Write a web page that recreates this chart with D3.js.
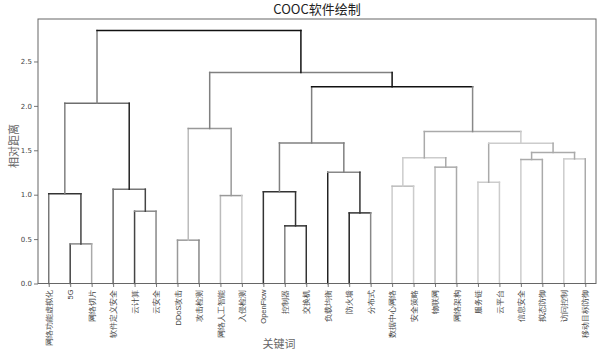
<!DOCTYPE html>
<html>
<head>
<meta charset="utf-8">
<script src="https://cdn.jsdelivr.net/npm/d3@7"></script>
<style>
  body { margin: 0; background: #fff; }
  svg { display: block; font-family: "Noto Sans CJK SC", "DejaVu Sans", sans-serif; }
  .axis path, .axis line { stroke: #777; }
  .axis text { fill: #444; }
</style>
</head>
<body>
<svg id="chart" width="602" height="354"></svg>
<script>
// leaves in dendrogram order
const leafLabels = [
  "网络功能虚拟化", "5G", "网络切片", "软件定义安全", "云计算", "云安全",
  "DDoS攻击", "攻击检测", "网络人工智能", "入侵检测", "OpenFlow", "控制器",
  "交换机", "负载均衡", "防火墙", "分布式", "数据中心网络", "安全策略",
  "物联网", "网络架构", "服务链", "云平台", "信息安全", "拟态防御",
  "访问控制", "移动目标防御"
];

// linkage: node ids 0..25 are leaves, merge i creates node 26 + i
const mergeLeft  = [1, 6, 11, 14, 4, 8, 0, 10, 3, 16, 20, 13, 18, 22, 24, 35, 39, 33, 36, 41, 27, 32, 43, 46, 47];
const mergeRight = [2, 7, 12, 15, 5, 9, 26, 28, 30, 17, 21, 29, 19, 23, 25, 38, 40, 37, 42, 44, 31, 34, 45, 48, 49];
const mergeHeight = [0.446, 0.488, 0.649, 0.795, 0.814, 0.99, 1.01, 1.032, 1.062, 1.096, 1.14, 1.253,
  1.31, 1.396, 1.403, 1.415, 1.475, 1.583, 1.578, 1.711, 1.745, 2.03, 2.214, 2.376, 2.85];

const yTicks = [0, 0.5, 1.0, 1.5, 2.0, 2.5];

// stroke shade of each link: [left leg, crossbar, right leg]
const linkShades = [
  ["#444", "#888", "#aaa"], ["#999", "#999", "#888"], ["#808080", "#333", "#333"],
  ["#222", "#333", "#888"], ["#444", "#888", "#888"], ["#bbb", "#999", "#ccc"],
  ["#777", "#333", "#444"], ["#333", "#333", "#333"], ["#666", "#777", "#444"],
  ["#ccc", "#bbb", "#ccc"], ["#ccc", "#ccc", "#ccc"], ["#222", "#888", "#333"],
  ["#bbb", "#aaa", "#aaa"], ["#ccc", "#aaa", "#aaa"], ["#ccc", "#ccc", "#aaa"],
  ["#ccc", "#ccc", "#aaa"], ["#aaa", "#aaa", "#aaa"], ["#808080", "#808080", "#808080"],
  ["#aaa", "#ccc", "#aaa"], ["#aaa", "#aaa", "#ccc"], ["#bbb", "#999", "#999"],
  ["#808080", "#6e6e6e", "#222"], ["#808080", "#111", "#888"], ["#808080", "#808080", "#111"],
  ["#808080", "#111", "#111"]
];

const svg = d3.select("#chart");
const margin = { top: 19, right: 6, bottom: 70.5, left: 38 };
const W = 602, H = 354;
const innerW = W - margin.left - margin.right;
const innerH = H - margin.top - margin.bottom;

const g = svg.append("g").attr("transform", `translate(${margin.left},${margin.top})`);

const x = d3.scalePoint().domain(leafLabels).range([0, innerW]).padding(0.5);
const y = d3.scaleLinear().domain([0, d3.max(mergeHeight) * 1.045]).range([innerH, 0]);

// node positions
const nodeX = leafLabels.map(d => x(d));
const nodeY = leafLabels.map(() => 0);
mergeHeight.forEach((h, i) => {
  nodeX.push((nodeX[mergeLeft[i]] + nodeX[mergeRight[i]]) / 2);
  nodeY.push(h);
});

// links
const links = g.append("g");
mergeHeight.forEach((h, i) => {
  const a = mergeLeft[i], b = mergeRight[i];
  const segs = [
    [nodeX[a], nodeY[a], nodeX[a], h],
    [nodeX[a], h, nodeX[b], h],
    [nodeX[b], h, nodeX[b], nodeY[b]]
  ];
  segs.forEach((s, k) => {
    links.append("line")
      .attr("x1", s[0]).attr("y1", y(s[1]))
      .attr("x2", s[2]).attr("y2", y(s[3]))
      .attr("stroke", linkShades[i][k])
      .attr("stroke-width", 1.5)
      .attr("stroke-linecap", "square");
  });
});

// axes
const xAxis = d3.axisBottom(x).tickSize(3.5).tickSizeOuter(0);
const yAxis = d3.axisLeft(y).tickValues(yTicks).tickFormat(d3.format(".1f")).tickSize(4).tickPadding(2);

const gx = g.append("g").attr("class", "axis").attr("transform", `translate(0,${innerH})`).call(xAxis);
gx.select(".domain").remove();
gx.selectAll("text")
  .attr("transform", "rotate(-90)")
  .attr("text-anchor", "end")
  .attr("x", -6)
  .attr("y", 0)
  .attr("dy", "0.35em")
  .style("font-size", "7.5px");

const gy = g.append("g").attr("class", "axis").call(yAxis);
gy.select(".domain").remove();
gy.selectAll("text").style("font-family", "DejaVu Sans").style("font-size", "7px");

// frame
g.append("rect")
  .attr("x", 0).attr("y", 0)
  .attr("width", innerW).attr("height", innerH)
  .attr("fill", "none").attr("stroke", "#666").attr("stroke-width", 1);

// title and axis labels
svg.append("text")
  .attr("x", margin.left + innerW / 2).attr("y", 14)
  .attr("text-anchor", "middle")
  .style("font-size", "13px").style("fill", "#222")
  .text("COOC软件绘制");

svg.append("text")
  .attr("x", 279).attr("y", 348)
  .attr("text-anchor", "middle")
  .style("font-size", "11px").style("fill", "#666")
  .text("关键词");

svg.append("text")
  .attr("transform", "translate(18,146) rotate(-90)")
  .attr("text-anchor", "middle")
  .style("font-size", "11px").style("fill", "#666")
  .text("相对距离");
</script>
</body>
</html>
